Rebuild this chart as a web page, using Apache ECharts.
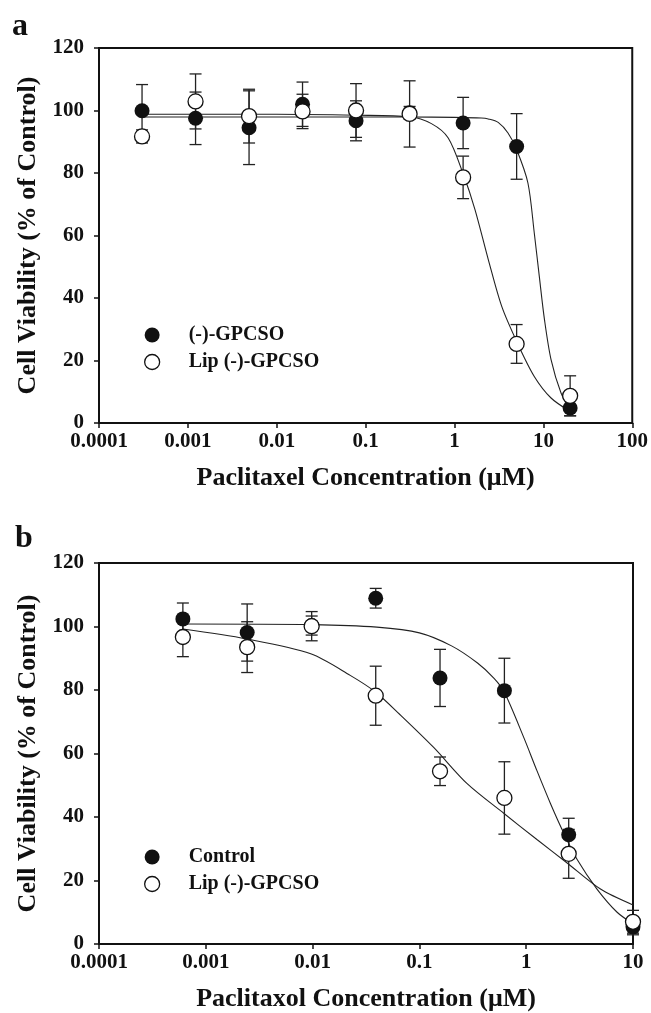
<!DOCTYPE html>
<html>
<head>
<meta charset="utf-8">
<script src="https://cdn.jsdelivr.net/npm/echarts@6/dist/echarts.min.js"></script>
<style>
  html, body { margin: 0; padding: 0; background: #fff; }
  #main { width: 651px; height: 1013px; }
</style>
</head>
<body>
<div id="main"></div>
<script>
// panel a: paclitaxel concentration (uM), 4-fold dilutions
var concA = [0.000305, 0.00122, 0.00488, 0.0195, 0.078, 0.3125, 1.25, 5, 20];
var gpcsoA = [99.9, 97.5, 94.5, 102.0, 96.7, 99.3, 96.0, 88.5, 4.8];
var gpcsoErrA = [8.4, 8.4, 11.8, 7.1, 6.4, 2.0, 8.2, 10.5, 2.5];
var lipA = [91.7, 102.9, 98.2, 99.7, 100.0, 98.9, 78.6, 25.3, 8.7];
var lipErrA = [2.1, 8.8, 8.6, 5.5, 8.6, 10.6, 6.8, 6.2, 6.4];

// fitted curves
var fitGpcsoAX = [0.000305, 0.01, 0.3, 1, 2, 2.4, 3.1, 4, 5, 6.7, 7.9, 9, 10.3, 12.2, 15.8, 20];
var fitGpcsoAY = [97.9, 97.9, 97.9, 97.8, 97.6, 97.3, 96.2, 92.8, 87.5, 76.8, 60.8, 46.9, 33, 20.3, 9.6, 4.3];
var fitLipAX = [0.000305, 0.01, 0.078, 0.31, 0.55, 0.85, 1.26, 1.7, 2.4, 3.4, 5.1, 7.9, 12.2, 20];
var fitLipAY = [98.8, 98.8, 98.5, 98.0, 95.8, 91.2, 79.5, 68.3, 52.3, 37.3, 25.6, 14.9, 8, 3.7];

// panel b
var concB = [0.00061, 0.00244, 0.0098, 0.039, 0.156, 0.625, 2.5, 10];
var controlB = [102.4, 98.1, 100.3, 108.9, 83.8, 79.8, 34.4, 5.4];
var controlErrB = [5.0, 9.0, 3.0, 3.1, 9.0, 10.2, 5.2, 2.5];
var lipB = [96.7, 93.5, 100.1, 78.2, 54.4, 46.0, 28.4, 7.0];
var lipErrB = [6.2, 8.0, 4.6, 9.3, 4.5, 11.4, 7.7, 3.6];

var fitControlBX = [0.00061, 0.01, 0.04, 0.1, 0.2, 0.35, 0.5, 0.62, 0.95, 1.26, 1.69, 2.25, 3.0, 4.6, 7.1, 10];
var fitControlBY = [100.8, 100.6, 99.8, 98, 93.9, 88.5, 83.7, 79.5, 65, 54.6, 44.2, 34.9, 26.6, 17.3, 10, 6.4];
var fitLipBX = [0.00061, 0.0024, 0.0096, 0.0225, 0.039, 0.066, 0.136, 0.28, 0.62, 1.26, 2.4, 4.96, 10];
var fitLipBY = [99.2, 96.1, 91.4, 84.6, 79.3, 72.2, 61.9, 50.5, 41.1, 32.9, 25.6, 17.3, 12.3];

var yTicks = [0, 20, 40, 60, 80, 100, 120];

var FONT = "'Liberation Serif', 'Times New Roman', serif";
var INK = '#111';

function pairs(xs, ys) {
  return xs.map(function (x, i) { return [x, ys[i]]; });
}
function triples(xs, ys, es) {
  return xs.map(function (x, i) { return [x, ys[i], es[i]]; });
}

// error bar with caps
function renderBar(params, api) {
  var x = api.value(0), y = api.value(1), e = api.value(2);
  var top = api.coord([x, y + e]);
  var bot = api.coord([x, y - e]);
  var hw = 6;
  var st = { stroke: '#222', lineWidth: 1.3 };
  return {
    type: 'group',
    children: [
      { type: 'line', shape: { x1: top[0], y1: top[1], x2: bot[0], y2: bot[1] }, style: st },
      { type: 'line', shape: { x1: top[0] - hw, y1: top[1], x2: top[0] + hw, y2: top[1] }, style: st },
      { type: 'line', shape: { x1: bot[0] - hw, y1: bot[1], x2: bot[0] + hw, y2: bot[1] }, style: st }
    ]
  };
}

function xAxis(idx, max, name) {
  return {
    type: 'log', logBase: 10, gridIndex: idx, min: 0.0001, max: max,
    axisLine: { lineStyle: { color: INK, width: 2 } },
    axisTick: { inside: false, length: 5, lineStyle: { color: INK, width: 1.5 } },
    minorTick: { show: false },
    splitLine: { show: false },
    axisLabel: {
      fontFamily: FONT, fontWeight: 'bold', fontSize: 21, color: INK, margin: 8,
      formatter: function (v) { return String(Number(v.toPrecision(1))); }
    },
    name: name, nameLocation: 'middle', nameGap: 42,
    nameTextStyle: { fontFamily: FONT, fontWeight: 'bold', fontSize: 26, color: INK }
  };
}

function yAxis(idx) {
  return {
    type: 'value', gridIndex: idx, min: yTicks[0], max: yTicks[yTicks.length - 1], interval: 20,
    axisLine: { show: true, lineStyle: { color: INK, width: 2 } },
    axisTick: { show: true, inside: false, length: 5, lineStyle: { color: INK, width: 1.5 } },
    splitLine: { show: false },
    axisLabel: { fontFamily: FONT, fontWeight: 'bold', fontSize: 21, color: INK, margin: 15 },
    name: 'Cell Viability (% of Control)', nameLocation: 'middle', nameGap: 58,
    nameTextStyle: { fontFamily: FONT, fontWeight: 'bold', fontSize: 26, color: INK }
  };
}

var filledStyle = { color: INK, opacity: 1 };
var openStyle = { color: '#fff', borderColor: INK, borderWidth: 1.3, opacity: 1 };

function curve(idx, name, xs, ys) {
  return {
    name: name, type: 'line', xAxisIndex: idx, yAxisIndex: idx,
    data: pairs(xs, ys), showSymbol: false, smooth: 0.3, z: 1,
    lineStyle: { color: '#222', width: 1.1 }, silent: true
  };
}
function errBars(idx, name, xs, ys, es) {
  return {
    name: name, type: 'custom', xAxisIndex: idx, yAxisIndex: idx,
    data: triples(xs, ys, es), renderItem: renderBar, encode: { x: 0, y: 1 }, z: 2, silent: true
  };
}
function dots(idx, name, xs, ys, style, z) {
  return {
    name: name, type: 'scatter', xAxisIndex: idx, yAxisIndex: idx,
    data: pairs(xs, ys), symbol: 'circle', symbolSize: 15, itemStyle: style, z: z
  };
}

function legend(top, names) {
  return {
    orient: 'vertical', left: 144, top: top, padding: 0, itemWidth: 15, itemHeight: 15, itemGap: 7,
    selectedMode: false,
    textStyle: { fontFamily: FONT, fontWeight: 'bold', fontSize: 20, color: INK, lineHeight: 20, padding: [0, 0, 0, 24] },
    data: [
      { name: names[0], icon: 'circle', itemStyle: filledStyle },
      { name: names[1], icon: 'circle', itemStyle: openStyle }
    ]
  };
}

var chart = echarts.init(document.getElementById('main'));
var option = {
  backgroundColor: '#fff',
  animation: false,
  grid: [
    { left: 99, top: 48, width: 536, height: 375, show: true, borderColor: INK, borderWidth: 2 },
    { left: 99, top: 563, width: 534, height: 386, show: true, borderColor: INK, borderWidth: 2 }
  ],
  xAxis: [
    xAxis(0, 100, 'Paclitaxel Concentration (\u03bcM)'),
    xAxis(1, 10, 'Paclitaxol Concentration (\u03bcM)')
  ],
  yAxis: [yAxis(0), yAxis(1)],
  legend: [
    legend(325, ['(-)-GPCSO', 'Lip (-)-GPCSO']),
    legend(847, ['Control', 'Lip (-)-GPCSO'])
  ],
  graphic: [
    { type: 'text', left: 12, top: 11, style: { text: 'a', font: 'bold 32px ' + FONT, fill: INK } },
    { type: 'text', left: 15, top: 523, style: { text: 'b', font: 'bold 32px ' + FONT, fill: INK } }
  ],
  series: [
    // panel a
    curve(0, 'fitA1', fitGpcsoAX, fitGpcsoAY),
    curve(0, 'fitA2', fitLipAX, fitLipAY),
    errBars(0, 'errA1', concA, gpcsoA, gpcsoErrA),
    errBars(0, 'errA2', concA, lipA, lipErrA),
    dots(0, '(-)-GPCSO', concA, gpcsoA, filledStyle, 3),
    dots(0, 'Lip (-)-GPCSO', concA, lipA, openStyle, 4),
    // panel b
    curve(1, 'fitB1', fitControlBX, fitControlBY),
    curve(1, 'fitB2', fitLipBX, fitLipBY),
    errBars(1, 'errB1', concB, controlB, controlErrB),
    errBars(1, 'errB2', concB, lipB, lipErrB),
    dots(1, 'Control', concB, controlB, filledStyle, 3),
    dots(1, 'Lip (-)-GPCSO', concB, lipB, openStyle, 4)
  ]
};
chart.setOption(option);
</script>
</body>
</html>
